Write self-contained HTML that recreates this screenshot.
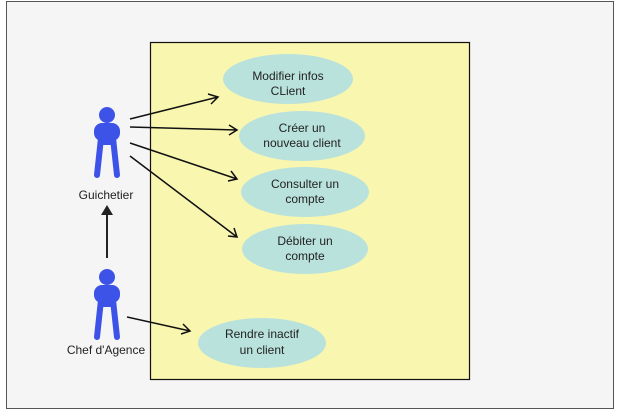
<!DOCTYPE html>
<html><head><style>body{margin:0;background:#fff}svg{display:block}text{font-family:"Liberation Sans",sans-serif;font-size:12px;fill:#222}</style></head><body>
<svg width="622" height="411" viewBox="0 0 622 411">
<rect x="6.5" y="1.5" width="607" height="407" fill="#f5f5f5" stroke="#555" stroke-width="1"/>
<rect x="150.5" y="42.5" width="319" height="337" fill="#f9f6b0" stroke="#111" stroke-width="1.2"/>
<g fill="#b9e2dc">
<ellipse cx="288" cy="79" rx="65" ry="25"/>
<ellipse cx="302" cy="136" rx="63" ry="25"/>
<ellipse cx="305" cy="192" rx="64" ry="25"/>
<ellipse cx="305" cy="249" rx="63" ry="25"/>
<ellipse cx="262" cy="343" rx="64" ry="25"/>
</g>
<g text-anchor="middle">
<text x="288" y="80">Modifier infos</text><text x="288" y="95">CLient</text>
<text x="302" y="132">Créer un</text><text x="302" y="147">nouveau client</text>
<text x="305" y="188">Consulter un</text><text x="305" y="203">compte</text>
<text x="305" y="245">Débiter un</text><text x="305" y="260">compte</text>
<text x="262" y="338">Rendre inactif</text><text x="262" y="354">un client</text>
<text x="106" y="199">Guichetier</text>
<text x="106" y="354">Chef d'Agence</text>
</g>
<g id="a" fill="#3d53e8" stroke="#3d53e8" stroke-linecap="round">
<circle cx="107" cy="115" r="8" stroke="none"/>
<rect x="94" y="123" width="26" height="18" rx="8" stroke="none"/>
<path d="M101 138 L97 175 M113 138 L117 175" stroke-width="6"/>
<rect x="99" y="135" width="16" height="10" stroke="none"/>
</g>
<use href="#a" transform="translate(0,162)"/>
<g stroke="#111" stroke-width="1.5" fill="none">
<path d="M130 119 L218 97 M208 94 L218 97 L211 104"/>
<path d="M130 127 L237 130 M229 125 L237 130 L229 135"/>
<path d="M130 143 L237 179 M231 171 L237 179 L228 181"/>
<path d="M130 156 L237 237 M234 228 L237 237 L228 236"/>
<path d="M127 317 L190 331 M183 324 L190 331 L181 334"/>
<path d="M107 258 L107 212" stroke="#222" stroke-width="2"/>
</g>
<path d="M101 215 L107 205 L113 215 Z" fill="#222"/>
</svg>
</body></html>
